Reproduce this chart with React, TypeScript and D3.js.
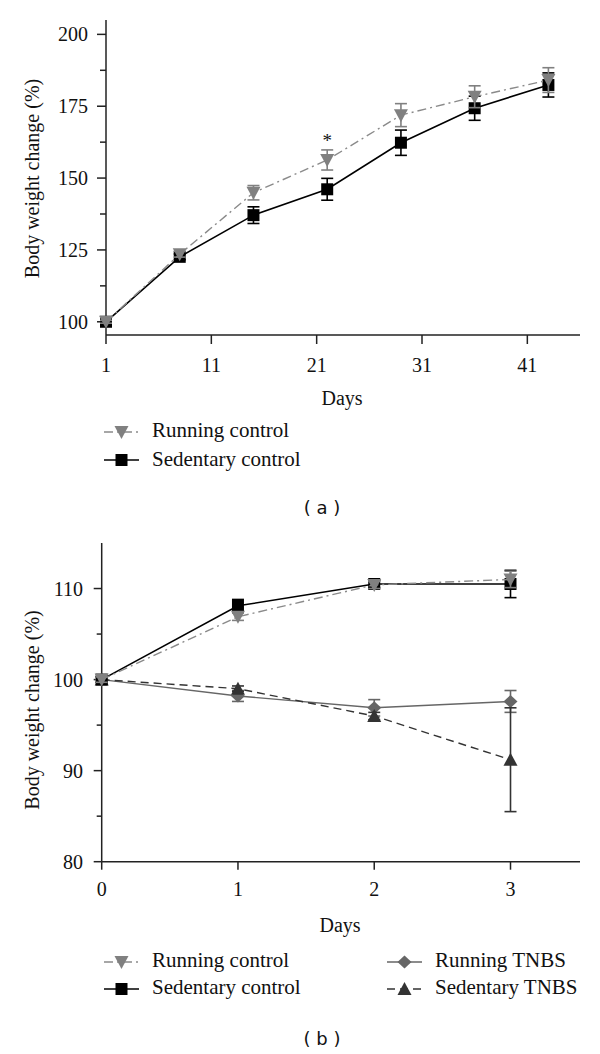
import React from "react";
import * as d3 from "d3";

// ---------- Data ----------
// Panel (a)
const daysA = [1, 8, 15, 22, 29, 36, 43];
const runCtrlA = [100, 123.5, 144.9, 156.3, 171.9, 178.3, 184.1];
const runCtrlAErr = [0.5, 1.0, 2.5, 3.5, 4.0, 3.8, 4.3];
const sedCtrlA = [100, 122.6, 137.1, 146.1, 162.3, 174.3, 182.4];
const sedCtrlAErr = [0.5, 1.0, 2.9, 3.8, 4.4, 4.2, 4.2];
const xTicksA = [1, 11, 21, 31, 41];
const yTicksA = [100, 125, 150, 175, 200];
const yMinorA = [112.5, 137.5, 162.5, 187.5];

// Panel (b)
const daysB = [0, 1, 2, 3];
const runCtrlB = [100, 106.9, 110.4, 111.0];
const runCtrlBErr = [0.3, 0.4, 0.4, 0.9];
const sedCtrlB = [100, 108.1, 110.5, 110.5];
const sedCtrlBErr = [0.3, 0.7, 0.4, 1.5];
const runTnbsB = [100, 98.2, 96.9, 97.6];
const runTnbsBErr = [0.3, 0.6, 0.9, 1.2];
const sedTnbsB = [100, 99.0, 96.0, 91.2];
const sedTnbsBErr = [0.3, 0.3, 0.4, 5.7];
const xTicksB = [0, 1, 2, 3];
const yTicksB = [80, 90, 100, 110];
const yMinorB = [85, 95, 105];

const SERIF = "'Liberation Serif', 'Times New Roman', serif";
const SANS = "'DejaVu Sans', Verdana, sans-serif";

type Shape = "square" | "tridown" | "triup" | "diamond";

function markerPath(shape: Shape, s: number) {
  const h = s / 2;
  switch (shape) {
    case "square":
      return `M${-h},${-h}H${h}V${h}H${-h}Z`;
    case "tridown":
      return `M${-h - 1},${-h}L${h + 1},${-h}L0,${h + 1}Z`;
    case "triup":
      return `M${-h - 1},${h}L${h + 1},${h}L0,${-h - 1}Z`;
    case "diamond":
      return `M0,${-h}L${h + 0.5},0L0,${h}L${-h - 0.5},0Z`;
  }
}

type Series = {
  name: string;
  x: number[];
  y: number[];
  err: number[];
  color: string;
  lineColor: string;
  dash: string | undefined;
  shape: Shape;
  size: number;
  width: number;
};

function SeriesG({ s, xs, ys }: { s: Series; xs: d3.ScaleLinear<number, number>; ys: d3.ScaleLinear<number, number> }) {
  const pts = s.x.map((d, i) => [d, s.y[i]] as [number, number]);
  const line = d3
    .line<[number, number]>()
    .x((d) => xs(d[0]))
    .y((d) => ys(d[1]));
  const cap = 6;
  return (
    <g>
      <path d={line(pts) || ""} fill="none" stroke={s.lineColor} strokeWidth={s.width} strokeDasharray={s.dash} />
      {pts.map((p, i) => {
        const cx = xs(p[0]);
        const y1 = ys(p[1] + s.err[i]);
        const y2 = ys(p[1] - s.err[i]);
        return (
          <g key={"e" + i} stroke={s.color} strokeWidth={1.6}>
            <line x1={cx} x2={cx} y1={y1} y2={y2} />
            <line x1={cx - cap} x2={cx + cap} y1={y1} y2={y1} />
            <line x1={cx - cap} x2={cx + cap} y1={y2} y2={y2} />
          </g>
        );
      })}
      {pts.map((p, i) => (
        <path key={"m" + i} d={markerPath(s.shape, s.size)} transform={`translate(${xs(p[0])},${ys(p[1])})`} fill={s.color} />
      ))}
    </g>
  );
}

function LegendItem({ s, x, y, ty }: { s: Series; x: number; y: number; ty: number }) {
  return (
    <g>
      <line x1={x} x2={x + 35} y1={y} y2={y} stroke={s.lineColor} strokeWidth={s.width} strokeDasharray={s.dash} />
      <path d={markerPath(s.shape, s.size)} transform={`translate(${x + 17.5},${y})`} fill={s.color} />
      <text x={x + 48} y={ty} fontFamily={SERIF} fontSize={21} fill="#111">
        {s.name}
      </text>
    </g>
  );
}

export default function App() {
  // Panel (a) scales
  const xA = d3.scaleLinear().domain([1, 46]).range([106, 580]);
  const yA = d3.scaleLinear().domain([95.4, 205]).range([335, 20]);
  // Panel (b) scales
  const xB = d3.scaleLinear().domain([0, 3.51]).range([101.7, 580]);
  const yB = d3.scaleLinear().domain([80, 115]).range([861.7, 543]);

  const runDash = "9,4,2,4";
  const sRunA: Series = { name: "Running control", x: daysA, y: runCtrlA, err: runCtrlAErr, color: "#808080", lineColor: "#8a8a8a", dash: runDash, shape: "tridown", size: 12, width: 1.4 };
  const sSedA: Series = { name: "Sedentary control", x: daysA, y: sedCtrlA, err: sedCtrlAErr, color: "#000", lineColor: "#000", dash: undefined, shape: "square", size: 12, width: 1.6 };

  const sRunB: Series = { name: "Running control", x: daysB, y: runCtrlB, err: runCtrlBErr, color: "#808080", lineColor: "#8a8a8a", dash: runDash, shape: "tridown", size: 12, width: 1.4 };
  const sSedB: Series = { name: "Sedentary control", x: daysB, y: sedCtrlB, err: sedCtrlBErr, color: "#000", lineColor: "#000", dash: undefined, shape: "square", size: 12, width: 1.6 };
  const sRunT: Series = { name: "Running TNBS", x: daysB, y: runTnbsB, err: runTnbsBErr, color: "#666", lineColor: "#666", dash: undefined, shape: "diamond", size: 13, width: 1.4 };
  const sSedT: Series = { name: "Sedentary TNBS", x: daysB, y: sedTnbsB, err: sedTnbsBErr, color: "#333", lineColor: "#333", dash: "8,5", shape: "triup", size: 12, width: 1.4 };

  const axisColor = "#222";

  return (
    <svg width={600} height={1054} style={{ position: "absolute", left: 0, top: 0, background: "#fff" }}>
      <rect x={0} y={0} width={600} height={1054} fill="#fff" />
      {/* ---------- Panel (a) ---------- */}
      <g>
        <line x1={xA(1)} x2={xA(1)} y1={yA(205)} y2={yA(95.4)} stroke={axisColor} strokeWidth={1.5} />
        <line x1={xA(1)} x2={xA(46)} y1={yA(95.4)} y2={yA(95.4)} stroke={axisColor} strokeWidth={1.5} />
        {yTicksA.map((t) => (
          <g key={t}>
            <line x1={xA(1) - 9} x2={xA(1)} y1={yA(t)} y2={yA(t)} stroke={axisColor} strokeWidth={1.5} />
            <text x={88} y={yA(t) + 7} textAnchor="end" fontFamily={SERIF} fontSize={20} fill="#111">
              {t}
            </text>
          </g>
        ))}
        {yMinorA.map((t) => (
          <line key={t} x1={xA(1) - 6} x2={xA(1)} y1={yA(t)} y2={yA(t)} stroke={axisColor} strokeWidth={1.5} />
        ))}
        {xTicksA.map((t) => (
          <g key={t}>
            <line x1={xA(t)} x2={xA(t)} y1={yA(95.4)} y2={yA(95.4) + 9} stroke={axisColor} strokeWidth={1.5} />
            <text x={xA(t)} y={372} textAnchor="middle" fontFamily={SERIF} fontSize={20} fill="#111">
              {t}
            </text>
          </g>
        ))}
        <text x={342} y={405} textAnchor="middle" fontFamily={SERIF} fontSize={20} fill="#111">
          Days
        </text>
        <text transform="translate(39,178.5) rotate(-90)" textAnchor="middle" fontFamily={SERIF} fontSize={20} fill="#111">
          Body weight change (%)
        </text>
        <SeriesG s={sSedA} xs={xA} ys={yA} />
        <SeriesG s={sRunA} xs={xA} ys={yA} />
        <text x={xA(22)} y={147} textAnchor="middle" fontFamily={SERIF} fontSize={19} fill="#111">
          *
        </text>
        <LegendItem s={sRunA} x={104} y={432} ty={437} />
        <LegendItem s={sSedA} x={104} y={460} ty={466} />
        <text x={322} y={514} textAnchor="middle" fontFamily={SANS} fontSize={18} fill="#111">
          ( a )
        </text>
      </g>

      {/* ---------- Panel (b) ---------- */}
      <g>
        <line x1={xB(0)} x2={xB(0)} y1={yB(115)} y2={yB(80)} stroke={axisColor} strokeWidth={1.5} />
        <line x1={xB(0)} x2={xB(3.51)} y1={yB(80)} y2={yB(80)} stroke={axisColor} strokeWidth={1.5} />
        {yTicksB.map((t) => (
          <g key={t}>
            <line x1={xB(0) - 8} x2={xB(0)} y1={yB(t)} y2={yB(t)} stroke={axisColor} strokeWidth={1.5} />
            <text x={83} y={yB(t) + 7} textAnchor="end" fontFamily={SERIF} fontSize={20} fill="#111">
              {t}
            </text>
          </g>
        ))}
        {yMinorB.map((t) => (
          <line key={t} x1={xB(0) - 5} x2={xB(0)} y1={yB(t)} y2={yB(t)} stroke={axisColor} strokeWidth={1.5} />
        ))}
        {xTicksB.map((t) => (
          <g key={t}>
            <line x1={xB(t)} x2={xB(t)} y1={yB(80)} y2={yB(80) + 8} stroke={axisColor} strokeWidth={1.5} />
            <text x={xB(t)} y={896} textAnchor="middle" fontFamily={SERIF} fontSize={20} fill="#111">
              {t}
            </text>
          </g>
        ))}
        <text x={340} y={932} textAnchor="middle" fontFamily={SERIF} fontSize={20} fill="#111">
          Days
        </text>
        <text transform="translate(39,710) rotate(-90)" textAnchor="middle" fontFamily={SERIF} fontSize={20} fill="#111">
          Body weight change (%)
        </text>
        <SeriesG s={sRunT} xs={xB} ys={yB} />
        <SeriesG s={sSedT} xs={xB} ys={yB} />
        <SeriesG s={sSedB} xs={xB} ys={yB} />
        <SeriesG s={sRunB} xs={xB} ys={yB} />
        <LegendItem s={sRunB} x={104} y={962} ty={967} />
        <LegendItem s={sSedB} x={104} y={989} ty={994} />
        <LegendItem s={sRunT} x={387} y={962} ty={967} />
        <LegendItem s={sSedT} x={387} y={989} ty={994} />
        <text x={322} y={1045} textAnchor="middle" fontFamily={SANS} fontSize={18} fill="#111">
          ( b )
        </text>
      </g>
    </svg>
  );
}
